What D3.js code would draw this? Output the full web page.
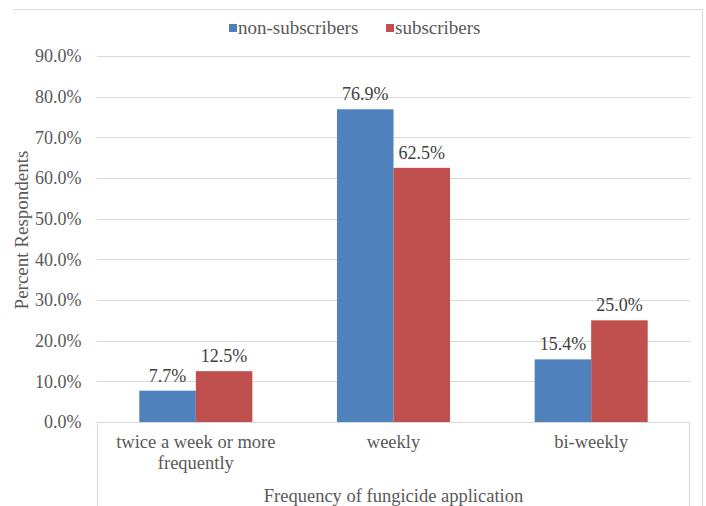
<!DOCTYPE html>
<meta charset="utf-8">
<script src="https://d3js.org/d3.v7.min.js"></script>
<style>
  body { margin: 0; background: #fff; }
</style>
<body>
<div id="canvas"></div>
<script>
  // dados do grafico
  var categories = ["twice a week or more frequently", "weekly", "bi-weekly"];
  var categoryLines = [["twice a week or more", "frequently"], ["weekly"], ["bi-weekly"]];
  var seriesNames = ["non-subscribers", "subscribers"];
  var nonSubscribers = [7.7, 76.9, 15.4];
  var subscribers = [12.5, 62.5, 25.0];
  var yTicks = [0, 10, 20, 30, 40, 50, 60, 70, 80, 90];
  var colors = ["#4f81bd", "#c0504d"];

  var FONT = "'Liberation Serif', 'Times New Roman', serif";

  var width = 706;
  var height = 506;
  var margin = {top: 56, right: 16, bottom: 84, left: 97};

  var svg = d3.select('#canvas')
    .append("svg")
    .attr("width", width)
    .attr("height", height)
    .style("font-family", FONT);

  // moldura externa (so topo e direita aparecem)
  svg.append("line")
    .attr("x1", 13).attr("x2", 702.5).attr("y1", 9.5).attr("y2", 9.5)
    .attr("stroke", "#d9d9d9");
  svg.append("line")
    .attr("x1", 702.5).attr("x2", 702.5).attr("y1", 9.5).attr("y2", height)
    .attr("stroke", "#d9d9d9");

  var plotW = width - margin.left - margin.right;
  var plotH = height - margin.top - margin.bottom;

  var g = svg.append("g")
    .attr("transform", "translate(" + margin.left + "," + margin.top + ")");

  // eixo X ---------------------------------------------
  var x = d3.scaleBand()
    .domain(categories)
    .range([0, plotW]);
  var bw = x.bandwidth();
  var gap = bw * 0.428;
  var x1 = d3.scaleBand()
    .domain(seriesNames)
    .range([gap / 2, bw - gap / 2]);

  // eixo Y ---------------------------------------------
  var y = d3.scaleLinear()
    .domain([0, 90])
    .range([plotH, 0]);

  // linhas de grade
  g.append("g")
    .selectAll("line")
    .data(yTicks.filter(function(d) { return d > 0; }))
    .enter()
    .append("line")
    .attr("x1", 0).attr("x2", plotW)
    .attr("y1", function(d) { return Math.round(y(d)) + 0.5; })
    .attr("y2", function(d) { return Math.round(y(d)) + 0.5; })
    .attr("stroke", "#d9d9d9");

  var yAxis = d3.axisLeft(y)
    .tickValues(yTicks)
    .tickSize(0)
    .tickPadding(15.5)
    .tickFormat(function(d) { return d.toFixed(1) + "%"; });

  var yg = g.append("g").call(yAxis).attr("font-family", FONT);
  yg.select(".domain").remove();
  yg.selectAll("text")
    .style("font-family", FONT)
    .style("font-size", "18px")
    .attr("fill", "#595959");

  // barras
  var data = [nonSubscribers, subscribers];
  for (let s = 0; s < data.length; s++) {
    g.selectAll(".bar" + s)
      .data(data[s])
      .enter()
      .append("rect")
      .attr("x", function(d, i) { return x(categories[i]) + x1(seriesNames[s]); })
      .attr("y", function(d) { return y(d); })
      .attr("width", x1.bandwidth())
      .attr("height", function(d) { return y(0) - y(d); })
      .attr("fill", colors[s]);

    g.selectAll(".lbl" + s)
      .data(data[s])
      .enter()
      .append("text")
      .attr("x", function(d, i) { return x(categories[i]) + x1(seriesNames[s]) + x1.bandwidth() / 2; })
      .attr("y", function(d) { return y(d) - 9; })
      .attr("text-anchor", "middle")
      .style("font-family", FONT)
      .style("font-size", "18px")
      .attr("fill", "#404040")
      .text(function(d) { return d.toFixed(1) + "%"; });
  }

  // caixa do eixo de categorias
  g.append("line")
    .attr("x1", 0).attr("x2", plotW)
    .attr("y1", plotH + 0.5).attr("y2", plotH + 0.5)
    .attr("stroke", "#d9d9d9");
  g.append("line")
    .attr("x1", 0.5).attr("x2", 0.5)
    .attr("y1", plotH).attr("y2", height - margin.top)
    .attr("stroke", "#d9d9d9");
  g.append("line")
    .attr("x1", plotW - 0.5).attr("x2", plotW - 0.5)
    .attr("y1", plotH).attr("y2", height - margin.top)
    .attr("stroke", "#d9d9d9");

  // rotulos de categoria
  var cat = g.selectAll(".cat")
    .data(categories)
    .enter()
    .append("text")
    .attr("x", function(d) { return x(d) + bw / 2; })
    .attr("y", plotH + 25.5)
    .attr("text-anchor", "middle")
    .style("font-family", FONT)
    .style("font-size", "18.5px")
    .attr("fill", "#595959");
  cat.each(function(d, i) {
    var t = d3.select(this);
    categoryLines[i].forEach(function(line, k) {
      t.append("tspan")
        .attr("x", x(d) + bw / 2)
        .attr("dy", k === 0 ? 0 : 21.5)
        .text(line);
    });
  });

  // titulo eixo X
  g.append("text")
    .attr("x", plotW / 2)
    .attr("y", plotH + 79.5)
    .attr("text-anchor", "middle")
    .style("font-family", FONT)
    .style("font-size", "18.5px")
    .attr("fill", "#595959")
    .text("Frequency of fungicide application");

  // titulo eixo Y
  g.append("text")
    .attr("transform", "rotate(-90)")
    .attr("x", -174)
    .attr("y", -69)
    .attr("text-anchor", "middle")
    .style("font-family", FONT)
    .style("font-size", "19px")
    .attr("fill", "#595959")
    .text("Percent Respondents");

  // legenda
  var legend = svg.append("g").attr("transform", "translate(229,28)");
  var legX = [0, 157];
  seriesNames.forEach(function(name, i) {
    legend.append("rect")
      .attr("x", legX[i]).attr("y", -4)
      .attr("width", 8).attr("height", 8)
      .attr("fill", colors[i]);
    legend.append("text")
      .attr("x", legX[i] + 9).attr("y", 6)
      .style("font-family", FONT)
      .style("font-size", "19px")
      .attr("fill", "#595959")
      .text(name);
  });
</script>
</body>
